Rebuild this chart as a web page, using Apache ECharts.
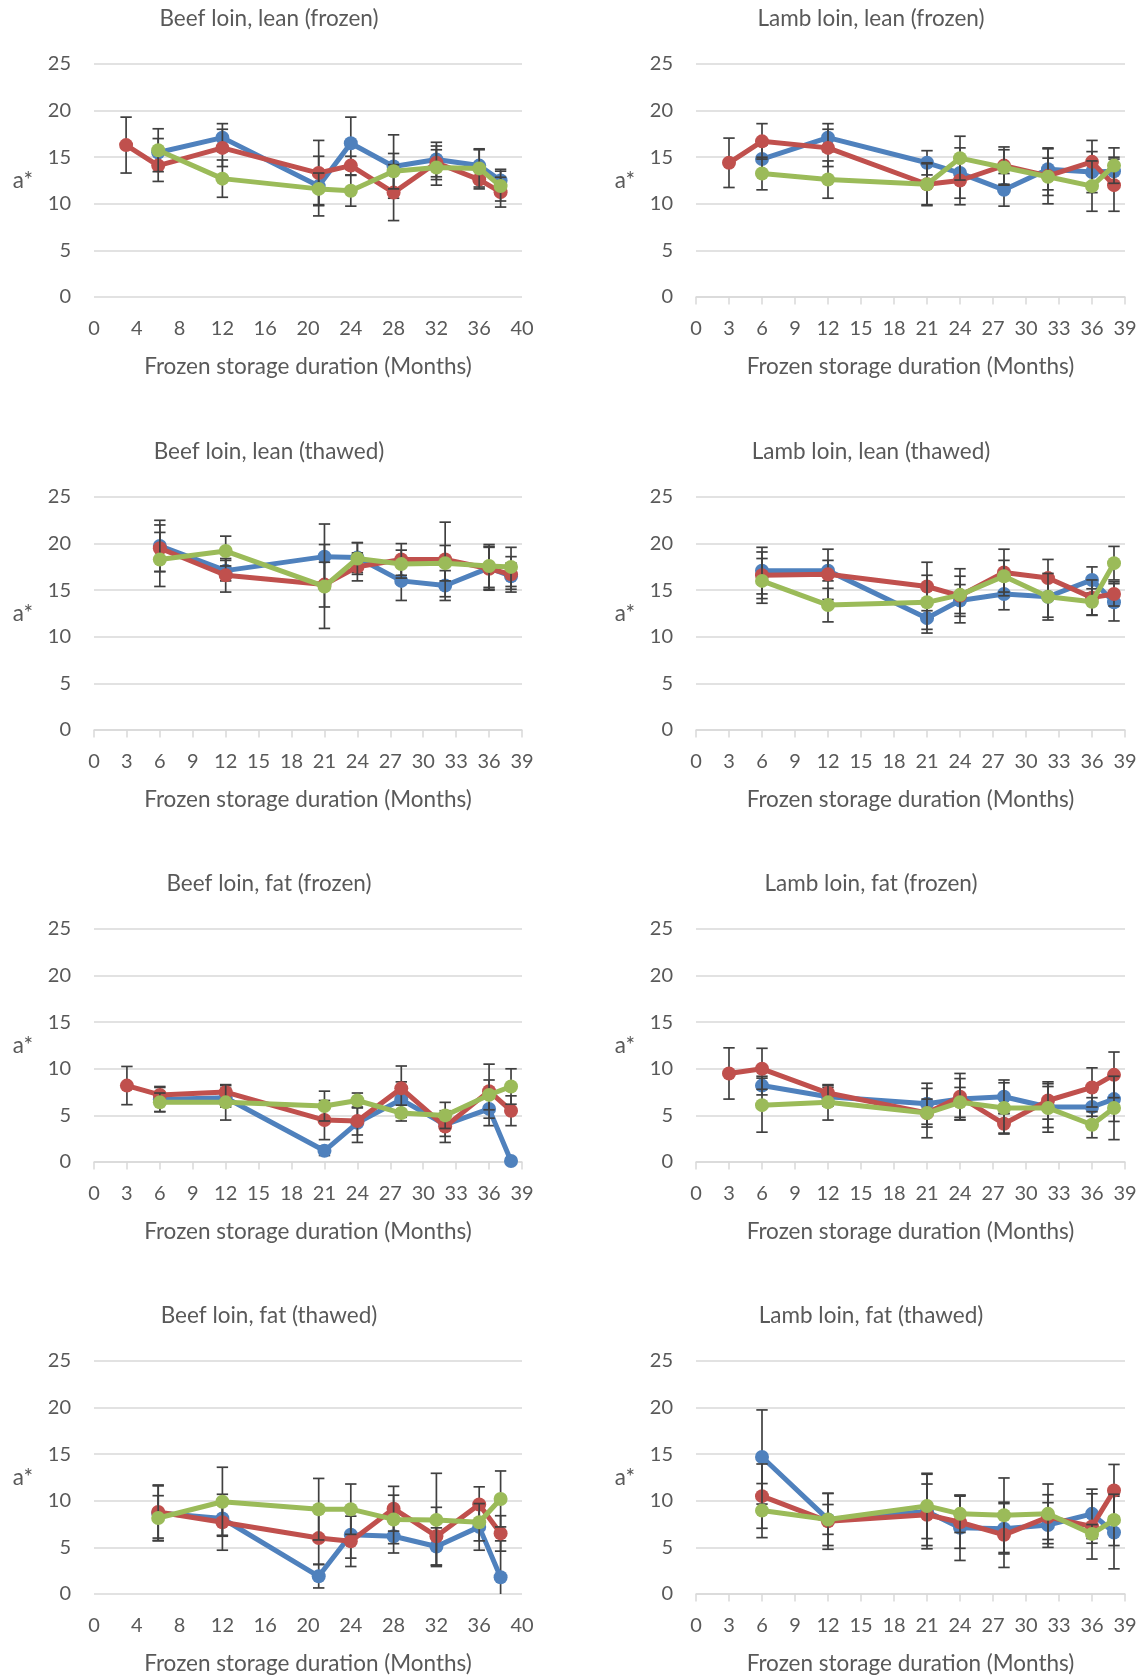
<!DOCTYPE html>
<html>
<head>
<meta charset="utf-8">
<script src="https://cdn.jsdelivr.net/npm/echarts@6/dist/echarts.min.js"></script>
<style>
html,body{margin:0;padding:0;background:#fff;}
#chart{width:1145px;height:1677px;}
</style>
</head>
<body>
<div id="chart"></div>
<script>
// ---------- DATA ----------
const panelTitles = [
  'Beef loin, lean (frozen)', 'Lamb loin, lean (frozen)',
  'Beef loin, lean (thawed)', 'Lamb loin, lean (thawed)',
  'Beef loin, fat (frozen)', 'Lamb loin, fat (frozen)',
  'Beef loin, fat (thawed)', 'Lamb loin, fat (thawed)'
];
const xAxisMax  = [40, 39, 39, 39, 39, 39, 40, 39];
const xAxisStep = [4, 3, 3, 3, 3, 3, 4, 3];
const yAxisTitle = 'a*';
const xAxisTitle = 'Frozen storage duration (Months)';

const monthsWith3 = [3, 6, 12, 21, 24, 28, 32, 36, 38];
const months      = [6, 12, 21, 24, 28, 32, 36, 38];

// Panel 1: Beef loin, lean (frozen)
const p1Blue  = [15.5, 17.1, 11.9, 16.5, 14.0, 14.75, 14.1, 12.5];
const p1BlueE = [1.5, 1.5, 3.2, 2.8, 3.4, 1.85, 1.8, 1.2];
const p1Red   = [16.3, 14.1, 16.0, 13.3, 14.1, 11.2, 14.4, 12.6, 11.25];
const p1RedE  = [3.0, 1.7, 2.0, 3.5, 1.0, 3.0, 1.8, 1.0, 1.6];
const p1Green = [15.75, 12.7, 11.6, 11.4, 13.5, 13.9, 13.8, 11.9];
const p1GreenE= [2.3, 2.0, 1.7, 1.65, 1.9, 1.9, 2.0, 1.6];

// Panel 2: Lamb loin, lean (frozen)
const p2Blue  = [14.8, 17.1, 14.4, 13.3, 11.5, 13.7, 13.4, 13.5];
const p2BlueE = [1.5, 1.5, 1.3, 2.7, 1.75, 2.2, 2.2, 1.5];
const p2Red   = [14.4, 16.7, 16.0, 12.1, 12.5, 14.1, 13.0, 14.5, 12.0];
const p2RedE  = [2.65, 1.9, 2.0, 2.2, 2.6, 2.0, 3.0, 2.3, 2.8];
const p2Green = [13.25, 12.6, 12.1, 14.9, 13.9, 12.9, 11.9, 14.1];
const p2GreenE= [1.75, 2.0, 2.3, 2.35, 1.9, 2.0, 2.7, 1.9];

// Panel 3: Beef loin, lean (thawed)
const p3Blue  = [19.75, 17.1, 18.6, 18.5, 16.0, 15.5, 17.4, 16.5];
const p3BlueE = [2.75, 1.1, 3.5, 1.6, 2.1, 1.6, 2.3, 1.4];
const p3Red   = [19.5, 16.6, 15.6, 17.5, 18.3, 18.3, 17.3, 16.7];
const p3RedE  = [2.5, 1.8, 2.4, 1.5, 1.7, 4.0, 2.3, 1.9];
const p3Green = [18.3, 19.2, 15.4, 18.4, 17.8, 17.9, 17.6, 17.5];
const p3GreenE= [2.9, 1.6, 4.5, 1.7, 1.5, 1.9, 2.3, 2.1];

// Panel 4: Lamb loin, lean (thawed)
const p4Blue  = [17.1, 17.1, 12.0, 13.9, 14.6, 14.3, 16.1, 13.7];
const p4BlueE = [2.5, 1.1, 1.6, 1.7, 1.7, 2.2, 1.4, 2.0];
const p4Red   = [16.6, 16.7, 15.4, 14.4, 16.9, 16.3, 14.2, 14.6];
const p4RedE  = [2.5, 2.7, 2.6, 2.9, 2.5, 2.0, 1.9, 1.3];
const p4Green = [16.0, 13.4, 13.7, 14.5, 16.5, 14.3, 13.75, 17.9];
const p4GreenE= [2.4, 1.8, 2.9, 2.0, 1.7, 2.5, 1.4, 1.8];

// Panel 5: Beef loin, fat (frozen)
const p5Blue  = [6.7, 6.9, 1.2, 4.2, 6.7, 4.0, 5.7, 0.1];
const p5BlueE = [1.3, 1.0, 0.5, 2.1, 1.9, 1.25, 1.8, 0.3];
const p5Red   = [8.2, 7.2, 7.5, 4.5, 4.4, 7.9, 3.8, 7.6, 5.5];
const p5RedE  = [2.05, 0.9, 0.7, 2.1, 1.5, 2.4, 1.7, 2.9, 1.6];
const p5Green = [6.4, 6.4, 6.0, 6.6, 5.25, 5.0, 7.2, 8.1];
const p5GreenE= [1.0, 1.9, 1.6, 0.8, 0.85, 1.4, 1.6, 1.9];

// Panel 6: Lamb loin, fat (frozen)
const p6Blue  = [8.2, 7.0, 6.25, 6.75, 7.0, 5.9, 5.9, 6.75];
const p6BlueE = [1.0, 1.0, 2.2, 2.2, 1.8, 2.2, 1.0, 2.4];
const p6Red   = [9.5, 10.0, 7.4, 5.25, 7.0, 4.1, 6.6, 8.0, 9.35];
const p6RedE  = [2.75, 2.2, 0.8, 1.5, 2.5, 1.1, 2.0, 2.1, 2.45];
const p6Green = [6.1, 6.4, 5.25, 6.4, 5.8, 5.8, 4.0, 5.8];
const p6GreenE= [2.9, 1.9, 2.65, 1.6, 2.7, 2.6, 1.4, 3.4];

// Panel 7: Beef loin, fat (thawed)
const p7Blue  = [8.7, 8.1, 1.9, 6.35, 6.2, 5.1, 7.2, 1.8];
const p7BlueE = [3.0, 1.8, 1.25, 2.5, 1.8, 2.0, 2.5, 3.9];
const p7Red   = [8.8, 7.7, 6.0, 5.65, 9.15, 6.2, 9.6, 6.5];
const p7RedE  = [2.8, 3.0, 2.8, 2.7, 2.4, 3.1, 1.9, 1.9];
const p7Green = [8.15, 9.9, 9.1, 9.1, 8.0, 7.95, 7.7, 10.2];
const p7GreenE= [2.4, 3.7, 3.3, 2.7, 2.6, 5.0, 2.0, 3.0];

// Panel 8: Lamb loin, fat (thawed)
const p8Blue  = [14.7, 8.0, 8.85, 7.1, 7.0, 7.4, 8.6, 6.6];
const p8BlueE = [5.05, 2.8, 4.0, 3.5, 2.7, 2.4, 2.65, 3.9];
const p8Red   = [10.5, 7.8, 8.5, 7.7, 6.35, 8.25, 7.25, 11.1];
const p8RedE  = [3.45, 3.0, 3.3, 2.8, 3.5, 2.4, 3.5, 2.8];
const p8Green = [8.95, 8.0, 9.45, 8.6, 8.45, 8.6, 6.45, 7.95];
const p8GreenE= [2.9, 1.6, 3.5, 2.0, 4.0, 3.2, 1.0, 2.75];

// ---------- PANEL ASSEMBLY ----------
const panels = [
  [[months, p1Blue, p1BlueE], [monthsWith3, p1Red, p1RedE], [months, p1Green, p1GreenE]],
  [[months, p2Blue, p2BlueE], [monthsWith3, p2Red, p2RedE], [months, p2Green, p2GreenE]],
  [[months, p3Blue, p3BlueE], [months, p3Red, p3RedE], [months, p3Green, p3GreenE]],
  [[months, p4Blue, p4BlueE], [months, p4Red, p4RedE], [months, p4Green, p4GreenE]],
  [[months, p5Blue, p5BlueE], [monthsWith3, p5Red, p5RedE], [months, p5Green, p5GreenE]],
  [[months, p6Blue, p6BlueE], [monthsWith3, p6Red, p6RedE], [months, p6Green, p6GreenE]],
  [[months, p7Blue, p7BlueE], [months, p7Red, p7RedE], [months, p7Green, p7GreenE]],
  [[months, p8Blue, p8BlueE], [months, p8Red, p8RedE], [months, p8Green, p8GreenE]]
];

// ---------- STYLE / LAYOUT ----------
const seriesColors = ['#4F81BD', '#C0504D', '#9BBB59'];
const textColor = '#595959';
const gridColor = '#d9d9d9';
const fontFamily = 'Lato, "Open Sans", sans-serif';
const fsText = 22.5;
const fsTick = 20;
const colLeft = [94, 696];
const colWidth = [428, 429];
const colTitleCenter = [269, 871];
const rowTop = [64, 497, 929, 1361];
const plotH = 233;

const grid = [], xAxis = [], yAxis = [], title = [], series = [];

function errRender(params, api) {
  const x = api.value(0), lo = api.value(1), hi = api.value(2);
  const t = api.coord([x, hi]);
  const b = api.coord([x, lo]);
  const hw = 5.7;
  const st = { stroke: '#404040', lineWidth: 1.7 };
  return {
    type: 'group',
    children: [
      { type: 'line', shape: { x1: t[0], y1: t[1], x2: b[0], y2: b[1] }, style: st },
      { type: 'line', shape: { x1: t[0] - hw, y1: t[1], x2: t[0] + hw, y2: t[1] }, style: st },
      { type: 'line', shape: { x1: b[0] - hw, y1: b[1], x2: b[0] + hw, y2: b[1] }, style: st }
    ]
  };
}

panels.forEach((panel, i) => {
  const col = i % 2, row = Math.floor(i / 2);
  grid.push({ left: colLeft[col], top: rowTop[row], width: colWidth[col], height: plotH, containLabel: false });
  title.push({
    text: panelTitles[i],
    left: colTitleCenter[col],
    top: rowTop[row] - 57,
    padding: 0,
    textAlign: 'center',
    textStyle: { color: textColor, fontFamily, fontSize: fsText, fontWeight: 'normal' }
  });
  const withTicks = xAxisMax[i] === 39;
  xAxis.push({
    type: 'value', gridIndex: i, min: 0, max: xAxisMax[i], interval: xAxisStep[i],
    name: xAxisTitle, nameLocation: 'middle', nameGap: 58,
    nameTextStyle: { color: textColor, fontFamily, fontSize: fsText },
    axisLine: { show: withTicks, lineStyle: { color: gridColor, width: 1.5 } },
    axisTick: { show: withTicks, length: 7.5, lineStyle: { color: gridColor, width: 1.5 } },
    axisLabel: { color: textColor, fontFamily, fontSize: fsTick, margin: 22 },
    splitLine: { show: false }
  });
  yAxis.push({
    type: 'value', gridIndex: i, min: 0, max: 25, interval: 5,
    name: yAxisTitle, nameLocation: 'middle', nameRotate: 0, nameGap: 61,
    nameTextStyle: { color: textColor, fontFamily, fontSize: fsText },
    axisLine: { show: false }, axisTick: { show: false },
    axisLabel: { color: textColor, fontFamily, fontSize: fsTick, margin: 23 },
    splitLine: { show: true, lineStyle: { color: gridColor, width: 1.6 } }
  });
  panel.forEach(([mx, vals, errs], s) => {
    series.push({
      type: 'custom', xAxisIndex: i, yAxisIndex: i, z: 2 + s * 2, clip: true,
      renderItem: errRender, silent: true,
      encode: { x: 0, y: [1, 2] },
      data: mx.map((m, j) => [m, vals[j] - errs[j], vals[j] + errs[j]])
    });
    series.push({
      type: 'line', xAxisIndex: i, yAxisIndex: i, z: 3 + s * 2,
      data: mx.map((m, j) => [m, vals[j]]),
      symbol: 'circle', symbolSize: 14, showAllSymbol: true,
      lineStyle: { color: seriesColors[s], width: 5 },
      itemStyle: { color: seriesColors[s] },
      emphasis: { disabled: true }
    });
  });
});

const chart = echarts.init(document.getElementById('chart'));
chart.setOption({ animation: false, backgroundColor: '#fff', title, grid, xAxis, yAxis, series });
</script>
</body>
</html>
